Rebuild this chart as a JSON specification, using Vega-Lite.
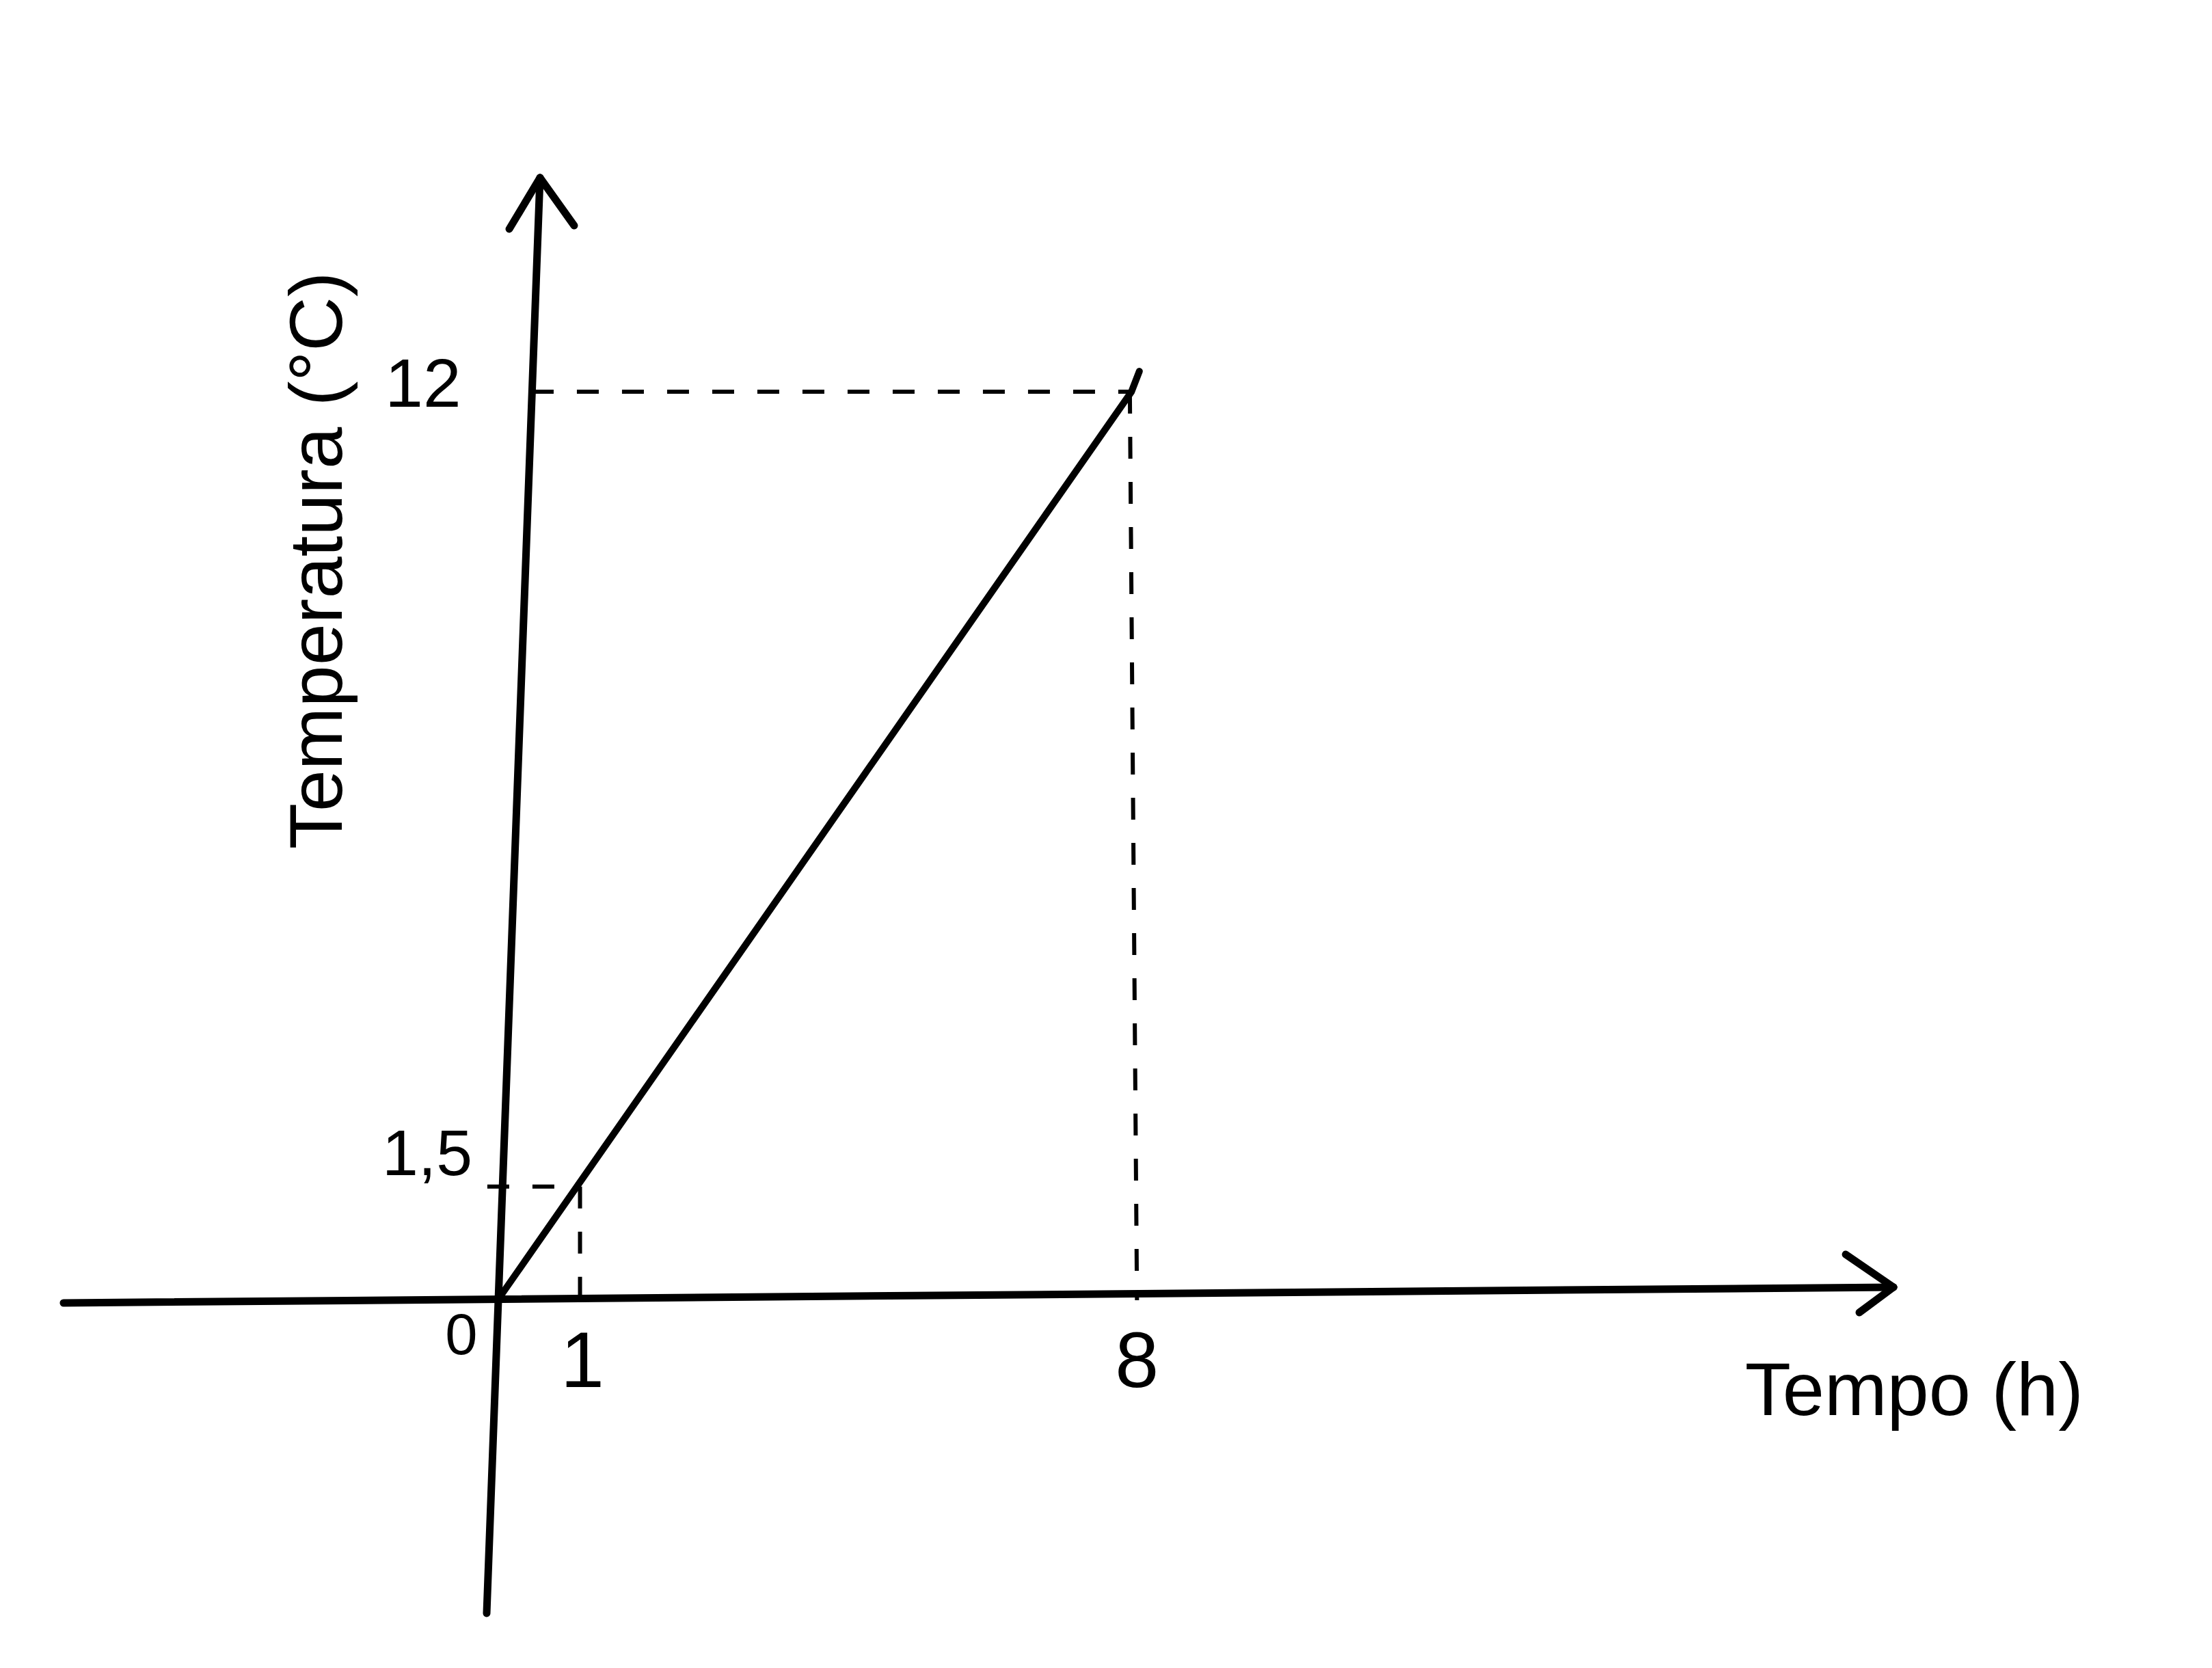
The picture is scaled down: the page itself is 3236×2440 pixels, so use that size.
{
  "$schema": "https://vega.github.io/schema/vega-lite/v6.json",
  "width": 3236,
  "height": 2440,
  "autosize": {"type": "fit", "contains": "padding"},
  "padding": 0,
  "background": "white",
  "config": {"view": {"stroke": null}},
  "datasets": {
    "axes": [
      {"part": "x axis", "x": -5.479, "y": -0.036, "x2": 17.619, "y2": 0.172},
      {"part": "x arrow upper", "x": 17.015, "y": 0.605, "x2": 17.619, "y2": 0.172},
      {"part": "x arrow lower", "x": 17.187, "y": -0.163, "x2": 17.619, "y2": 0.172},
      {"part": "y axis", "x": -0.138, "y": -4.135, "x2": 0.535, "y2": 14.826},
      {"part": "y arrow left", "x": 0.147, "y": 14.149, "x2": 0.535, "y2": 14.826},
      {"part": "y arrow right", "x": 0.966, "y": 14.194, "x2": 0.535, "y2": 14.826}
    ],
    "guides": [
      {"part": "h 12", "x": 0.431, "y": 12, "x2": 8, "y2": 12},
      {"part": "v 8", "x": 7.98, "y": 12, "x2": 8.07, "y2": 0},
      {"part": "h 1.5", "x": -0.13, "y": 1.5, "x2": 1, "y2": 1.5},
      {"part": "v 1", "x": 1.04, "y": 1.5, "x2": 1.04, "y2": 0}
    ],
    "series": [
      {"x": 0, "y": 0},
      {"x": 1, "y": 1.5},
      {"x": 8, "y": 12},
      {"x": 8.1, "y": 12.27}
    ],
    "xticks": [
      {"label": "1", "x": 1, "y": 0},
      {"label": "8", "x": 8, "y": 0}
    ],
    "origin": [{"label": "0", "x": 0, "y": 0}],
    "ytick12": [{"label": "12", "x": 0, "y": 12}],
    "ytick15": [{"label": "1,5", "x": 0, "y": 1.5}],
    "xtitle": [{"label": "Tempo (h)", "x": 17.88, "y": -1.22}],
    "ytitle": [{"label": "Temperatura (°C)", "x": -2.25, "y": 9.77}]
  },
  "encoding": {
    "x": {"field": "x", "type": "quantitative", "scale": {"domain": [-6.281, 21.639], "nice": false, "zero": false}, "axis": null},
    "y": {"field": "y", "type": "quantitative", "scale": {"domain": [-4.858, 17.174], "nice": false, "zero": false}, "axis": null}
  },
  "layer": [
    {
      "data": {"name": "guides"},
      "mark": {"type": "rule", "color": "black", "strokeWidth": 6, "strokeDash": [32, 34]},
      "encoding": {"x2": {"field": "x2"}, "y2": {"field": "y2"}}
    },
    {
      "data": {"name": "axes"},
      "mark": {"type": "rule", "color": "black", "strokeWidth": 11, "strokeCap": "round"},
      "encoding": {"x2": {"field": "x2"}, "y2": {"field": "y2"}}
    },
    {
      "data": {"name": "series"},
      "mark": {"type": "line", "color": "black", "strokeWidth": 10, "strokeCap": "round"},
      "encoding": {"order": {"field": "x", "type": "quantitative"}}
    },
    {
      "data": {"name": "xticks"},
      "mark": {"type": "text", "font": "Liberation Sans", "fontSize": 115, "color": "black", "align": "center", "baseline": "middle", "dx": 8, "dy": 92},
      "encoding": {"text": {"field": "label"}}
    },
    {
      "data": {"name": "origin"},
      "mark": {"type": "text", "font": "Liberation Sans", "fontSize": 85, "color": "black", "align": "center", "baseline": "middle", "dx": -53, "dy": 53},
      "encoding": {"text": {"field": "label"}}
    },
    {
      "data": {"name": "ytick12"},
      "mark": {"type": "text", "font": "Liberation Sans", "fontSize": 100, "color": "black", "align": "center", "baseline": "middle", "dx": -109, "dy": -8},
      "encoding": {"text": {"field": "label"}}
    },
    {
      "data": {"name": "ytick15"},
      "mark": {"type": "text", "font": "Liberation Sans", "fontSize": 95, "color": "black", "align": "center", "baseline": "middle", "dx": -103, "dy": -46},
      "encoding": {"text": {"field": "label"}}
    },
    {
      "data": {"name": "xtitle"},
      "mark": {"type": "text", "font": "Liberation Sans", "fontSize": 110, "color": "black", "align": "center", "baseline": "middle"},
      "encoding": {"text": {"field": "label"}}
    },
    {
      "data": {"name": "ytitle"},
      "mark": {"type": "text", "font": "Liberation Sans", "fontSize": 110, "color": "black", "align": "center", "baseline": "middle", "angle": 270},
      "encoding": {"text": {"field": "label"}}
    }
  ]
}
